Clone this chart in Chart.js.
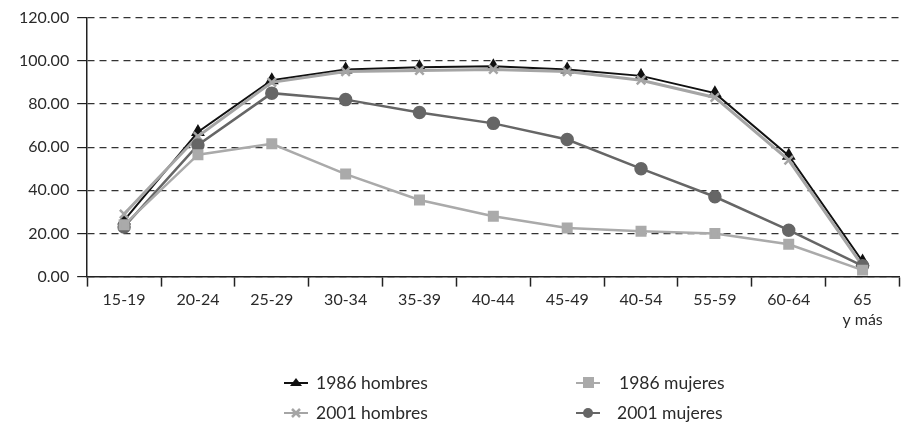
<!DOCTYPE html>
<html>
<head>
<meta charset="utf-8">
<script src="https://cdn.jsdelivr.net/npm/chart.js@4"></script>
<style>
  body { margin: 0; background: #fff; font-family: Lato, sans-serif; overflow: hidden; }
  #wrap { position: relative; width: 908px; height: 333px; }
  #legend { position: absolute; left: 0; top: 332px; width: 901px; height: 94px; font-size: 17.5px; color: #2a2a2a; }
  .item { position: absolute; display: flex; align-items: center; }
</style>
</head>
<body>
<div id="wrap"><canvas id="myChart" width="908" height="333"></canvas></div>
<div id="legend"></div>
<script>
var labels = ['15-19', '20-24', '25-29', '30-34', '35-39', '40-44', '45-49', '40-54', '55-59', '60-64', ['65', 'y más']];
var hombres1986 = [26, 67, 91, 96, 97, 97.5, 96, 93, 85, 56, 7];
var hombres2001 = [29, 65, 90, 95, 95.5, 96, 95, 91, 83, 54, 5];
var mujeres1986 = [24, 56.5, 61.5, 47.5, 35.5, 28, 22.5, 21, 20, 15, 3];
var mujeres2001 = [23, 61, 85, 82, 76, 71, 63.5, 50, 37, 21.5, 5];
var yTicks = [0, 20, 40, 60, 80, 100, 120];

var ctx = document.getElementById('myChart').getContext('2d');
var myChart = new Chart(ctx, {
    type: 'line',
    data: {
        labels: labels,
        datasets: [{
            label: '1986 mujeres',
            data: mujeres1986,
            borderColor: '#aaaaaa',
            backgroundColor: '#aaaaaa',
            borderWidth: 2.5,
            pointStyle: 'rect',
            pointRadius: 6,
            tension: 0
        }, {
            label: '2001 mujeres',
            data: mujeres2001,
            borderColor: '#666666',
            backgroundColor: '#666666',
            borderWidth: 2.5,
            pointStyle: 'circle',
            pointRadius: 5.5,
            tension: 0
        }, {
            label: '2001 hombres',
            data: hombres2001,
            borderColor: '#a5a5a5',
            backgroundColor: '#a5a5a5',
            borderWidth: 3,
            pointStyle: 'crossRot',
            pointRadius: 6,
            pointBorderWidth: 2.5,
            tension: 0
        }, {
            label: '1986 hombres',
            data: hombres1986,
            borderColor: '#111111',
            backgroundColor: '#111111',
            borderWidth: 2,
            pointStyle: 'triangle',
            pointRadius: 6,
            tension: 0
        }]
    },
    options: {
        responsive: false,
        animation: false,
        layout: { padding: { left: 11, right: 0, top: 16, bottom: 0 } },
        plugins: {
            legend: { display: false },
            tooltip: { enabled: false }
        },
        scales: {
            x: {
                offset: true,
                grid: {
                    offset: true,
                    drawOnChartArea: false,
                    drawTicks: true,
                    tickLength: 10,
                    tickColor: '#222',
                    tickWidth: 1.5
                },
                border: { color: '#222', width: 1.5 },
                ticks: { color: '#2a2a2a', font: { family: 'Lato', size: 16 }, maxRotation: 0, padding: 4 }
            },
            y: {
                min: 0,
                max: 120,
                afterBuildTicks: function (axis) {
                    axis.ticks = yTicks.map(function (v) { return { value: v }; });
                },
                grid: {
                    color: '#333',
                    lineWidth: 1.2,
                    tickLength: 10,
                    tickColor: '#222',
                    tickBorderDash: [],
                    drawTicks: true
                },
                border: { color: '#222', width: 1.5, dash: [7, 5] },
                ticks: {
                    color: '#2a2a2a',
                    font: { family: 'Lato', size: 16 },
                    padding: 8,
                    callback: function (v) { return Number(v).toFixed(2); }
                }
            }
        }
    }
});

var legendItems = [
    { text: '1986 hombres', x: 284, y: 40, color: '#111', shape: 'triangle', gap: 8 },
    { text: '2001 hombres', x: 284, y: 70, color: '#a5a5a5', shape: 'cross', gap: 8 },
    { text: '1986 mujeres', x: 576, y: 40, color: '#aaaaaa', shape: 'square', gap: 19 },
    { text: '2001 mujeres', x: 576, y: 70, color: '#666', shape: 'circle', gap: 17 }
];
var legend = document.getElementById('legend');
legendItems.forEach(function (it) {
    var mark = '';
    if (it.shape === 'triangle') mark = '<polygon points="12,3 18,11 6,11" fill="' + it.color + '"/>';
    if (it.shape === 'square') mark = '<rect x="7" y="2" width="11" height="11" fill="' + it.color + '"/>';
    if (it.shape === 'circle') mark = '<circle cx="12" cy="8" r="5" fill="' + it.color + '"/>';
    if (it.shape === 'cross') mark = '<path d="M8,4 L16,12 M16,4 L8,12" stroke="' + it.color + '" stroke-width="2.5"/>';
    var div = document.createElement('div');
    div.className = 'item';
    div.style.left = it.x + 'px';
    div.style.top = it.y + 'px';
    div.innerHTML = '<svg width="24" height="16" style="margin-right:' + it.gap + 'px"><line x1="0" y1="8" x2="24" y2="8" stroke="' + it.color + '" stroke-width="2"/>' + mark + '</svg><span>' + it.text + '</span>';
    legend.appendChild(div);
});
</script>
</body>
</html>
